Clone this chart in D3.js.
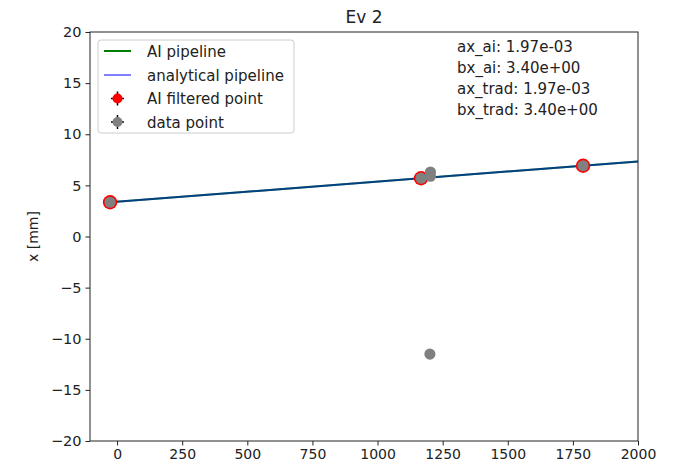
<!DOCTYPE html>
<html><head><meta charset="utf-8">
<script src="https://cdn.jsdelivr.net/npm/d3@7"></script>
<style>
body{margin:0;background:#fff;}
text{font-family:"DejaVu Sans",sans-serif;fill:#222;}
</style></head><body>
<svg id="c" width="682" height="471"></svg>
<script>
const title = "Ev 2";
const yLabel = "x [mm]";
const xTicks = [0,250,500,750,1000,1250,1500,1750,2000];
const yTicks = [-20,-15,-10,-5,0,5,10,15,20];
const xDomain = [-104, 2000];
const yDomain = [-20, 20];
// fit parameters
const axAi = 1.97e-3, bxAi = 3.40;
const axTrad = 1.97e-3, bxTrad = 3.40;
const fitStartX = -27;
// points
const dataZ = [-27, 1167, 1203, 1203, 1789, 1201];
const dataX = [3.35, 5.70, 6.3, 5.9, 6.92, -11.5];
const aiZ = [-27, 1167, 1789];
const aiX = [3.35, 5.70, 6.92];
const legendLabels = ["AI pipeline","analytical pipeline","AI filtered point","data point"];
const infoLines = ["ax_ai: 1.97e-03","bx_ai: 3.40e+00","ax_trad: 1.97e-03","bx_trad: 3.40e+00"];

const svg = d3.select("#c");
const L=90,R=638,T=32,B=441;
const x = d3.scaleLinear().domain(xDomain).range([L,R]);
const y = d3.scaleLinear().domain(yDomain).range([B,T]);

svg.append("defs").append("clipPath").attr("id","clip")
  .append("rect").attr("x",L).attr("y",T).attr("width",R-L).attr("height",B-T);

const gx = svg.append("g").attr("transform",`translate(0,${B})`)
  .call(d3.axisBottom(x).tickValues(xTicks).tickSize(4.5).tickPadding(4).tickFormat(d3.format("d")));
gx.selectAll("text").style("font-size","14px");
const gy = svg.append("g").attr("transform",`translate(${L},0)`)
  .call(d3.axisLeft(y).tickValues(yTicks).tickSize(4.5).tickPadding(4).tickFormat(d=>d3.format("d")(d).replace("-","\u2212")));
gy.selectAll("text").style("font-size","14.5px");
[gx,gy].forEach(g=>{g.select(".domain").remove(); g.selectAll("line").attr("stroke","#222");});

const plot = svg.append("g").attr("clip-path","url(#clip)");
const fitAi = z=>axAi*z+bxAi, fitTrad = z=>axTrad*z+bxTrad;
plot.append("line").attr("x1",x(fitStartX)).attr("y1",y(fitAi(fitStartX)))
  .attr("x2",x(xDomain[1])).attr("y2",y(fitAi(xDomain[1])))
  .attr("stroke","green").attr("stroke-width",2);
plot.append("line").attr("x1",x(fitStartX)).attr("y1",y(fitTrad(fitStartX)))
  .attr("x2",x(xDomain[1])).attr("y2",y(fitTrad(xDomain[1])))
  .attr("stroke","blue").attr("stroke-opacity",0.5).attr("stroke-width",2);

plot.selectAll(".ai").data(aiZ).enter().append("circle")
  .attr("cx",(d)=>x(d)).attr("cy",(d,i)=>y(aiX[i])).attr("r",7.2).attr("fill","red");
plot.selectAll(".dp").data(dataZ).enter().append("circle")
  .attr("cx",(d)=>x(d)).attr("cy",(d,i)=>y(dataX[i])).attr("r",5.6).attr("fill","gray");

svg.append("rect").attr("x",L).attr("y",T).attr("width",R-L).attr("height",B-T)
  .attr("fill","none").attr("stroke","#222").attr("stroke-width",1);

svg.append("text").attr("x",(L+R)/2).attr("y",T-9).attr("text-anchor","middle")
  .style("font-size","17px").text(title);
svg.append("text").attr("transform",`translate(38,${(T+B)/2}) rotate(-90)`)
  .attr("text-anchor","middle").style("font-size","14px").text(yLabel);

// legend
const lg = svg.append("g");
lg.append("rect").attr("x",98).attr("y",40).attr("width",196).attr("height",93).attr("rx",3)
  .attr("fill","#fff").attr("fill-opacity",0.8).attr("stroke","#ccc");
const rows=[51,75,98.5,122];
lg.append("line").attr("x1",104).attr("x2",131).attr("y1",rows[0]).attr("y2",rows[0]).attr("stroke","green").attr("stroke-width",2);
lg.append("line").attr("x1",104).attr("x2",131).attr("y1",rows[1]).attr("y2",rows[1]).attr("stroke","blue").attr("stroke-opacity",0.5).attr("stroke-width",2);
[["red",rows[2]],["gray",rows[3]]].forEach(([c,yy])=>{
  lg.append("line").attr("x1",117.5).attr("x2",117.5).attr("y1",yy-7).attr("y2",yy+7).attr("stroke","#000").attr("stroke-width",1.5);
  lg.append("line").attr("x1",111).attr("x2",124).attr("y1",yy).attr("y2",yy).attr("stroke","#000").attr("stroke-width",1.5);
  lg.append("circle").attr("cx",117.5).attr("cy",yy).attr("r",5).attr("fill",c);
});
legendLabels.forEach((t,i)=>lg.append("text").attr("x",147).attr("y",rows[i]+5.5).style("font-size","15px").text(t));

infoLines.forEach((t,i)=>svg.append("text").attr("x",457).attr("y",51.5+i*21.2).style("font-size","15px").text(t));
</script></body></html>
